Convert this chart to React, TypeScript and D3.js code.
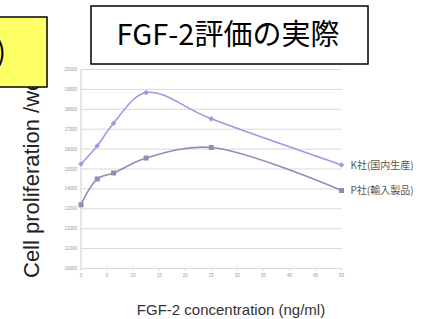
import * as d3 from "d3";

const W = 443;
const H = 319;
const MARGIN = { top: 69.5, right: 102, bottom: 50, left: 81 };

const CONC = [0, 3.125, 6.25, 12.5, 25, 50];
const K_VALUES = [15250, 16170, 17300, 18840, 17520, 15200];
const P_VALUES = [13200, 14500, 14800, 15550, 16080, 13920];
const X_TICKS = [0, 5, 10, 15, 20, 25, 30, 35, 40, 45, 50];
const Y_TICKS = [10000, 11000, 12000, 13000, 14000, 15000, 16000, 17000, 18000, 19000, 20000];
const SERIES = [
  { name: "K社(国内生産)", values: K_VALUES, color: "#9b9be0", marker: "diamond" },
  { name: "P社(輸入製品)", values: P_VALUES, color: "#8d8db5", marker: "square" },
];

const JP = "'Noto Sans CJK JP', 'Noto Sans', sans-serif";
const SANS = "'Liberation Sans', Arial, sans-serif";

export default function App() {
  const innerH = H - MARGIN.top - MARGIN.bottom - 0.5;

  const x = d3.scaleLinear().domain([0, 50]).range([0, 260.5]);
  const y = d3.scaleLinear().domain([10000, 20000]).range([innerH, 0]);

  const line = d3
    .line<number>()
    .x((_, i) => x(CONC[i]))
    .y((d) => y(d))
    .curve(d3.curveCatmullRom.alpha(0.5));

  return (
    <svg width={W} height={H} style={{ position: "absolute", left: 0, top: 0, background: "#fff" }}>
      <g transform={`translate(${MARGIN.left},${MARGIN.top})`}>
        {Y_TICKS.map((t) => (
          <g key={t}>
            <line x1={0} x2={x(50)} y1={y(t)} y2={y(t)} stroke="#d9d9d9" strokeWidth={1} />
            <text x={-4} y={y(t)} dy="0.35em" textAnchor="end" fontSize={4.5} fill="#999" fontFamily={SANS}>
              {t}
            </text>
          </g>
        ))}
        <line x1={0} x2={0} y1={0} y2={innerH} stroke="#d0d0d0" />
        {X_TICKS.map((t) => (
          <g key={t}>
            <line x1={x(t)} x2={x(t)} y1={innerH} y2={innerH + 2} stroke="#d0d0d0" />
            <text x={x(t)} y={innerH + 7} dy="0.35em" textAnchor="middle" fontSize={4.5} fill="#999" fontFamily={SANS}>
              {t}
            </text>
          </g>
        ))}
        {SERIES.map((s) => (
          <g key={s.name}>
            <path d={line(s.values) ?? ""} fill="none" stroke={s.color} strokeWidth={1.6} />
            {s.values.map((v, i) =>
              s.marker === "square" ? (
                <rect key={i} x={x(CONC[i]) - 2.5} y={y(v) - 2.5} width={5} height={5} fill={s.color} />
              ) : (
                <rect
                  key={i}
                  x={-2}
                  y={-2}
                  width={4}
                  height={4}
                  fill={s.color}
                  transform={`translate(${x(CONC[i])},${y(v)}) rotate(45)`}
                />
              )
            )}
            <text
              x={x(50) + 9}
              y={y(s.values[s.values.length - 1])}
              dy="0.35em"
              fontSize={10}
              fill="#555"
              fontFamily={JP}
            >
              {s.name}
            </text>
          </g>
        ))}
      </g>

      <text
        transform="translate(39,278) rotate(-90)"
        fontSize={22}
        fill="#222"
        fontFamily={SANS}
      >
        Cell proliferation /well
      </text>

      <text x={231} y={315} textAnchor="middle" fontSize={15} fill="#333" fontFamily={SANS}>
        FGF-2 concentration (ng/ml)
      </text>

      <rect x={-2} y={17} width={49} height={70} fill="#ffff66" stroke="#000" strokeWidth={1.5} />
      <text x={6} y={62} textAnchor="end" fontSize={28} fill="#000" fontFamily={JP}>
        )
      </text>

      <rect x={91} y={6} width={277} height={58} fill="#fff" stroke="#000" strokeWidth={1.5} />
      <text x={228} y={45} textAnchor="middle" fontSize={29} fill="#000" fontFamily={JP}>
        FGF-2評価の実際
      </text>
    </svg>
  );
}
